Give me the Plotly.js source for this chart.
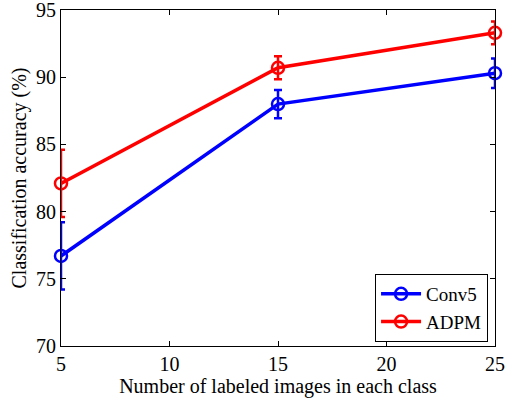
<!DOCTYPE html>
<html>
<head>
<meta charset="utf-8">
<script src="https://cdn.plot.ly/plotly-3.0.1.min.js"></script>
<style>html,body{margin:0;padding:0;background:#fff;}#chart{width:505px;height:401px;}</style>
</head>
<body>
<div id="chart"></div>
<script>
const xLabels = [5, 15, 25];
const conv5 = [76.7, 88.0, 90.3];
const conv5Err = [2.5, 1.05, 1.1];
const adpm = [82.1, 90.7, 93.3];
const adpmErr = [2.5, 0.85, 0.85];
const xTicks = [5, 10, 15, 20, 25];
const yTicks = [70, 75, 80, 85, 90, 95];

function series(name, y, err, color) {
  return {
    x: xLabels, y: y, name: name, type: 'scatter', mode: 'lines+markers',
    line: {color: color, width: 3.5},
    marker: {symbol: 'circle-open', size: 12, color: color, line: {width: 2.5, color: color}},
    error_y: {type: 'data', array: err, visible: true, color: color, thickness: 2.5, width: 4},
    cliponaxis: false
  };
}

const data = [series('Conv5', conv5, conv5Err, '#0000ff'), series('ADPM', adpm, adpmErr, '#ff0000')];
const fam = 'Liberation Serif, Times New Roman, serif';
const font = {family: fam, size: 20, color: '#000'};
const layout = {
  width: 505, height: 401,
  margin: {l: 61, r: 10, t: 10, b: 55},
  paper_bgcolor: '#fff', plot_bgcolor: '#fff',
  font: font,
  showlegend: true,
  legend: {x: 0.984, y: 0.012, xanchor: 'right', yanchor: 'bottom', bordercolor: '#000', borderwidth: 1,
           bgcolor: '#fff', font: {family: fam, size: 19, color: '#000'}, tracegroupgap: 0, itemwidth: 40},
  xaxis: {
    range: [5, 25], tickvals: xTicks, ticktext: xTicks.map(String), ticks: 'inside', ticklen: 5,
    tickcolor: '#000', showline: true, linecolor: '#000', linewidth: 1, mirror: 'ticks',
    showgrid: false, zeroline: false, tickfont: font, ticklabeloverflow: 'allow',
    title: {text: 'Number of labeled images in each class', font: {family: fam, size: 20}, standoff: 2}
  },
  yaxis: {
    range: [70, 95], tickvals: yTicks, ticktext: yTicks.map(String), ticks: 'inside', ticklen: 5,
    tickcolor: '#000', showline: true, linecolor: '#000', linewidth: 1, mirror: 'ticks',
    showgrid: false, zeroline: false, tickfont: font, ticklabeloverflow: 'allow',
    title: {text: 'Classification accuracy (%)', font: {family: fam, size: 20}, standoff: 4}
  }
};
Plotly.newPlot('chart', data, layout, {staticPlot: true, displayModeBar: false});
</script>
</body>
</html>
